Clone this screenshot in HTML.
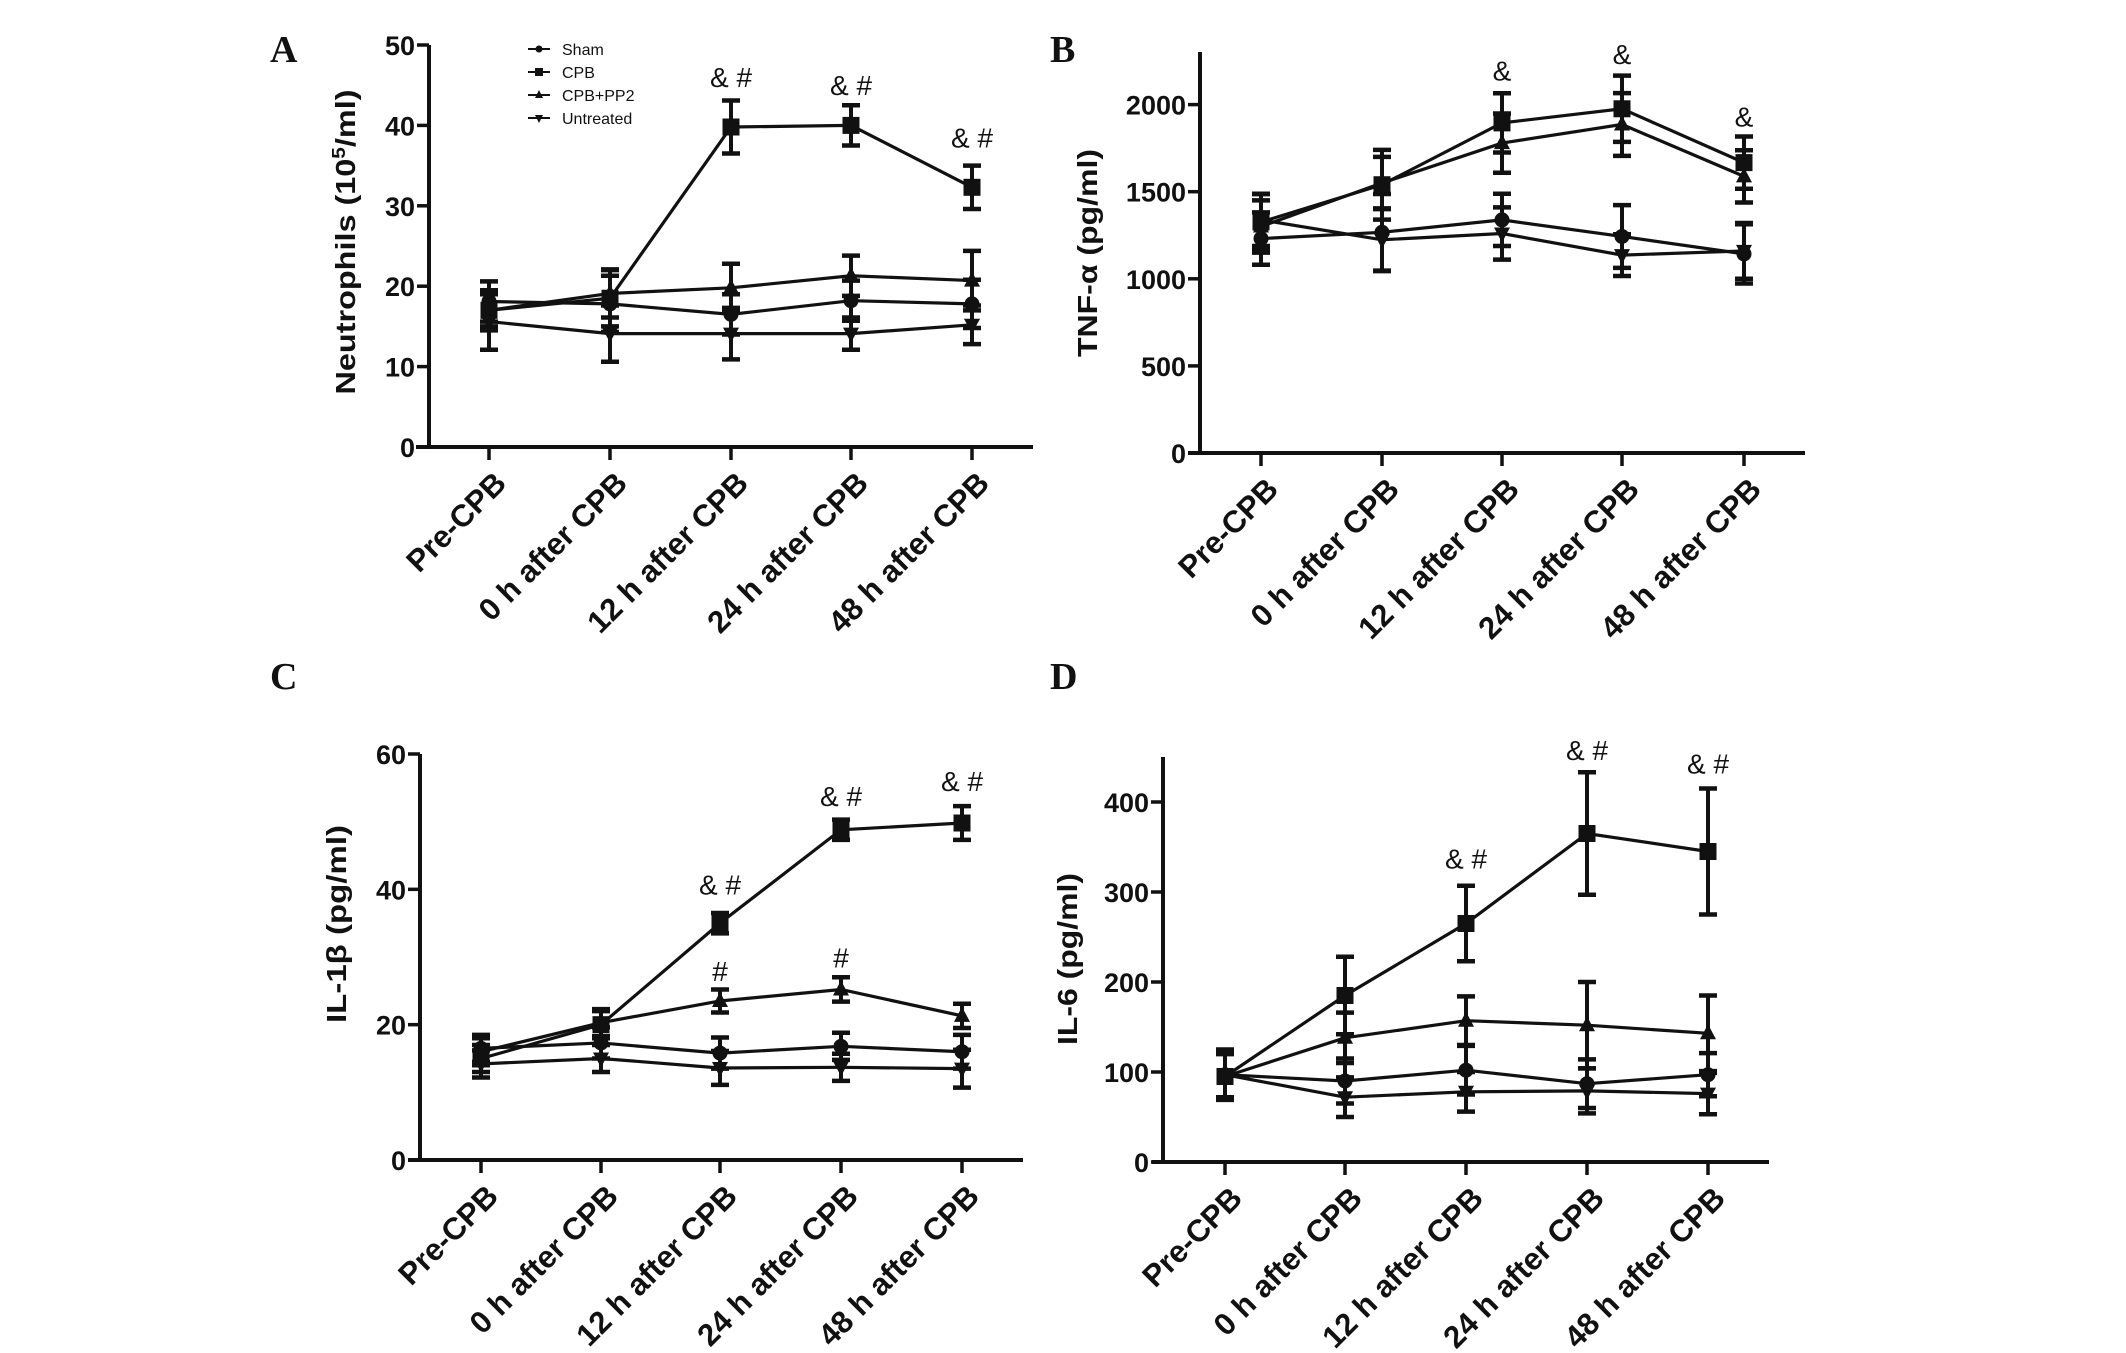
<!DOCTYPE html>
<html><head><meta charset="utf-8"><style>
html,body{margin:0;padding:0;background:#fff;}
svg{display:block;}
</style></head><body>
<svg id="fig" width="2126" height="1353" viewBox="0 0 2126 1353" xmlns="http://www.w3.org/2000/svg" font-family="Liberation Sans, sans-serif" fill="#111"></svg>
<script>
const categories = ["Pre-CPB","0 h after CPB","12 h after CPB","24 h after CPB","48 h after CPB"];
// Panel A: Neutrophils
const aSham = [18.1,17.8,16.5,18.2,17.8];
const aShamErr = [2.5,3.5,2.5,2.5,3];
const aCPB = [17,18.5,39.8,40,32.3];
const aCPBErr = [2,3.5,3.3,2.5,2.7];
const aPP2 = [17,19.1,19.8,21.3,20.7];
const aPP2Err = [2.5,3,3,2.5,3.7];
const aUnt = [15.6,14.1,14.1,14.1,15.2];
const aUntErr = [3.5,3.5,3.2,2,2.4];
const aTicks = [0,10,20,30,40,50];
// Panel B: TNF-a
const bSham = [1231,1267,1338,1243,1143];
const bShamErr = [150,220,150,180,170];
const bCPB = [1326,1540,1895,1976,1667];
const bCPBErr = [160,200,170,190,150];
const bPP2 = [1300,1550,1779,1886,1588];
const bPP2Err = [150,150,170,180,150];
const bUnt = [1338,1224,1260,1136,1160];
const bUntErr = [150,180,150,120,160];
const bTicks = [0,500,1000,1500,2000];
// Panel C: IL-1b
const cSham = [16.5,17.3,15.8,16.8,16];
const cShamErr = [2,2.3,2.3,2,2.5];
const cCPB = [15,20,35,48.8,49.8];
const cCPBErr = [2,2,1.5,1.5,2.5];
const cPP2 = [16,20.3,23.5,25.2,21.3];
const cPP2Err = [2,2,1.7,1.8,1.8];
const cUnt = [14.2,15,13.6,13.7,13.5];
const cUntErr = [2,2,2.5,2,2.8];
const cTicks = [0,20,40,60];
// Panel D: IL-6
const dSham = [97,90,102,87,97];
const dShamErr = [25,25,27,27,24];
const dCPB = [95,185,265,365,345];
const dCPBErr = [25,43,42,68,70];
const dPP2 = [95,138,157,152,143];
const dPP2Err = [25,28,27,48,42];
const dUnt = [97,72,78,79,76];
const dUntErr = [28,22,22,25,23];
const dTicks = [0,100,200,300,400];
// annotations (value positions)
const aNotes = [[2,"& #",46],[3,"& #",45],[4,"& #",38.5]];
const bNotes = [[2,"&",2195],[3,"&",2290],[4,"&",1933]];
const cNotes = [[2,"& #",40.7],[3,"& #",53.8],[4,"& #",56],[2,"#",27.9],[3,"#",29.9]];
const dNotes = [[2,"& #",337],[3,"& #",458],[4,"& #",443]];

const NS="http://www.w3.org/2000/svg";
const svg=document.getElementById('fig');
function mk(tag,attrs,parent){const e=document.createElementNS(NS,tag);for(const k in attrs)e.setAttribute(k,attrs[k]);(parent||svg).appendChild(e);return e;}

function marker(g,kind,x,y){
  let m;
  if(kind==='circle'){m=mk('circle',{cx:x,cy:y,r:7.5,fill:'#111'},g);}
  else if(kind==='square'){m=mk('rect',{x:x-8.5,y:y-8.5,width:17,height:17,fill:'#111'},g);}
  else if(kind==='up'){m=mk('polygon',{points:`${x},${y-9} ${x-8},${y+6} ${x+8},${y+6}`,fill:'#111'},g);}
  else {m=mk('polygon',{points:`${x},${y+9} ${x-8},${y-6} ${x+8},${y-6}`,fill:'#111'},g);}
  
  
}

function panel(cfg){
  const g=mk('g',{});
  
  
  const Y=v=>cfg.y0-(v-0)*(cfg.y0-cfg.yRef)/cfg.refVal;
  const X=i=>cfg.xt[i];
  const lb=mk('text',{x:cfg.lx,y:cfg.ly,style:'font-family:"Liberation Serif",serif;font-weight:bold;font-size:38px'},g);
  lb.textContent=cfg.id;
  
  
  const ya=mk('line',{x1:cfg.ax,y1:cfg.top,x2:cfg.ax,y2:cfg.y0+2,stroke:'#111','stroke-width':4},g);
  
  
  const xa=mk('line',{x1:cfg.xs,y1:cfg.y0,x2:cfg.xe,y2:cfg.y0,stroke:'#111','stroke-width':4},g);
  
  
  cfg.ticks.forEach(t=>{
    const y=Y(t);
    mk('line',{x1:cfg.ax-12,y1:y,x2:cfg.ax,y2:y,stroke:'#111','stroke-width':3.5},g);
    const tl=mk('text',{x:cfg.ax-14,y:y+10,'text-anchor':'end','font-weight':'bold','font-size':27},g);
    tl.textContent=t;
    
    
  });
  categories.forEach((c,i)=>{
    const x=X(i);
    mk('line',{x1:x,y1:cfg.y0,x2:x,y2:cfg.y0+13,stroke:'#111','stroke-width':3.5},g);
    const bx=x+19,by=cfg.y0+38;
    const tl=mk('text',{x:bx,y:by,'text-anchor':'end','font-weight':'bold','font-size':31,transform:`rotate(-45 ${bx} ${by})`},g);
    tl.textContent=c;
    
    
  });
  const tt=mk('text',{x:cfg.tx,y:cfg.ty,'text-anchor':'middle','font-weight':'bold','font-size':28,transform:`rotate(-90 ${cfg.tx} ${cfg.ty})`,textLength:cfg.tlen,lengthAdjust:'spacingAndGlyphs'},g);
  tt.innerHTML=cfg.title;
  
  
  cfg.series.forEach(s=>{
    const sg=mk('g',{},g);
    
    
    const pts=s.v.map((v,i)=>`${X(i)},${Y(v)}`).join(' ');
    mk('polyline',{points:pts,fill:'none',stroke:'#111','stroke-width':3.2},sg);
    s.v.forEach((v,i)=>{
      const x=X(i),e=s.e[i];
      mk('line',{x1:x,y1:Y(v-e),x2:x,y2:Y(v+e),stroke:'#111','stroke-width':4},sg);
      mk('line',{x1:x-9,y1:Y(v+e),x2:x+9,y2:Y(v+e),stroke:'#111','stroke-width':4.5},sg);
      mk('line',{x1:x-9,y1:Y(v-e),x2:x+9,y2:Y(v-e),stroke:'#111','stroke-width':4.5},sg);
      marker(sg,s.kind,x,Y(v));
    });
  });
  cfg.notes.forEach(n=>{
    const t=mk('text',{x:X(n[0]),y:Y(n[2])+10,'text-anchor':'middle','font-size':28},g);
    t.textContent=n[1];
    
    
  });
}

panel({id:'A',lx:270,ly:62,ax:429,top:45,y0:447,yRef:45,refVal:50,xs:416,xe:1033,xt:[489,610,731,851,972],ticks:aTicks,
  tx:355,ty:242,tlen:305,title:'Neutrophils (10<tspan dy="-10" font-size="18">5</tspan><tspan dy="10">/ml)</tspan>',
  series:[{name:'sham',kind:'circle',v:aSham,e:aShamErr},{name:'cpb',kind:'square',v:aCPB,e:aCPBErr},{name:'cpb-pp2',kind:'up',v:aPP2,e:aPP2Err},{name:'untreated',kind:'down',v:aUnt,e:aUntErr}],notes:aNotes});
panel({id:'B',lx:1050,ly:62,ax:1200,top:52,y0:453,yRef:104.6,refVal:2000,xs:1188,xe:1805,xt:[1261,1382,1502,1622,1744],ticks:bTicks,
  tx:1097,ty:253,tlen:208,title:'TNF-α (pg/ml)',
  series:[{name:'sham',kind:'circle',v:bSham,e:bShamErr},{name:'cpb',kind:'square',v:bCPB,e:bCPBErr},{name:'cpb-pp2',kind:'up',v:bPP2,e:bPP2Err},{name:'untreated',kind:'down',v:bUnt,e:bUntErr}],notes:bNotes});
panel({id:'C',lx:270,ly:689,ax:420,top:754,y0:1160,yRef:754,refVal:60,xs:408,xe:1023,xt:[481,601,720,841,962],ticks:cTicks,
  tx:346,ty:924,tlen:198,title:'IL-1β (pg/ml)',
  series:[{name:'sham',kind:'circle',v:cSham,e:cShamErr},{name:'cpb',kind:'square',v:cCPB,e:cCPBErr},{name:'cpb-pp2',kind:'up',v:cPP2,e:cPP2Err},{name:'untreated',kind:'down',v:cUnt,e:cUntErr}],notes:cNotes});
panel({id:'D',lx:1050,ly:689,ax:1163,top:757,y0:1162,yRef:802,refVal:400,xs:1152,xe:1769,xt:[1225,1345,1466,1587,1708],ticks:dTicks,
  tx:1077,ty:959,tlen:172,title:'IL-6 (pg/ml)',
  series:[{name:'sham',kind:'circle',v:dSham,e:dShamErr},{name:'cpb',kind:'square',v:dCPB,e:dCPBErr},{name:'cpb-pp2',kind:'up',v:dPP2,e:dPP2Err},{name:'untreated',kind:'down',v:dUnt,e:dUntErr}],notes:dNotes});

const legendNames=["Sham","CPB","CPB+PP2","Untreated"];
const legendKinds=["circle","square","up","down"];
const lg=mk('g',{});


legendNames.forEach((n,i)=>{
  const y=49+i*23;
  const eg=mk('g',{},lg);
  
  
  mk('line',{x1:528,y1:y,x2:550,y2:y,stroke:'#111','stroke-width':2},eg);
  const k=legendKinds[i];
  if(k==='circle')mk('circle',{cx:539,cy:y,r:3.5,fill:'#111'},eg);
  else if(k==='square')mk('rect',{x:535,y:y-4,width:8,height:8,fill:'#111'},eg);
  else if(k==='up')mk('polygon',{points:`539,${y-5} 535,${y+3} 543,${y+3}`,fill:'#111'},eg);
  else mk('polygon',{points:`539,${y+5} 535,${y-3} 543,${y-3}`,fill:'#111'},eg);
  const t=mk('text',{x:562,y:y+6,'font-size':16},eg);
  t.textContent=n;
});
</script>
</body></html>
